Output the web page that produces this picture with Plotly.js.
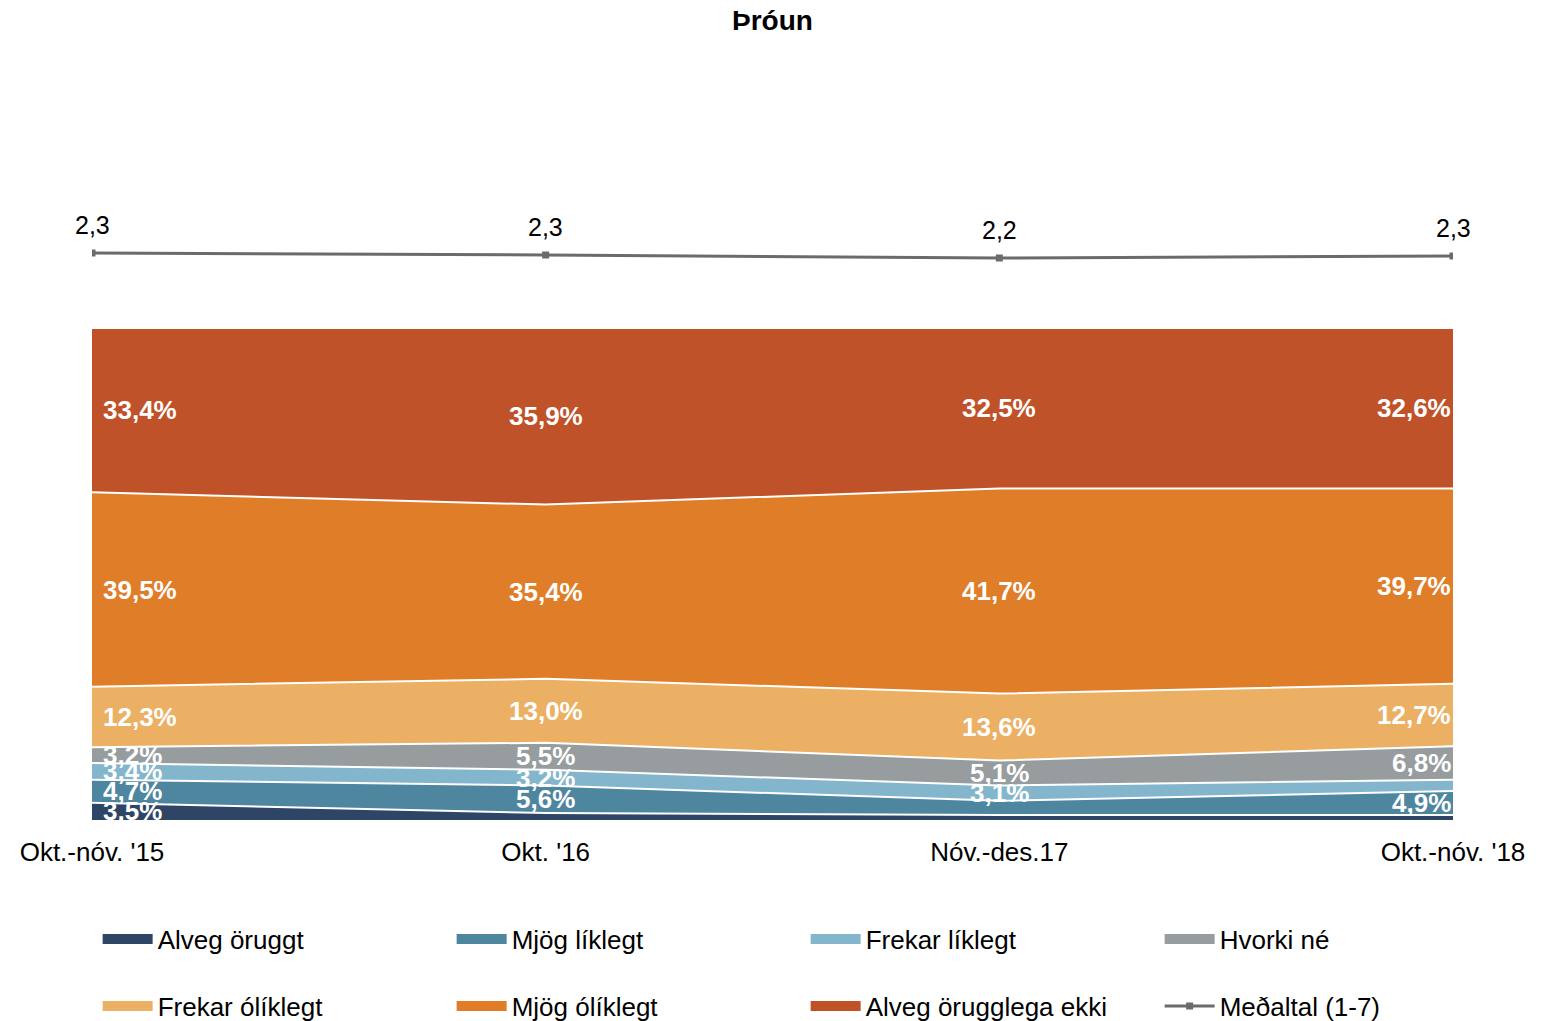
<!DOCTYPE html>
<html>
<head>
<meta charset="utf-8">
<script src="https://cdn.plot.ly/plotly-3.0.1.min.js"></script>
<style>html,body{margin:0;padding:0;background:#fff;}#chart{width:1562px;height:1021px;}</style>
</head>
<body>
<div id="chart"></div>
<script>
const categories = ["Okt.-nóv. '15", "Okt. '16", "Nóv.-des.17", "Okt.-nóv. '18"];
const seriesNames = ["Alveg öruggt", "Mjög líklegt", "Frekar líklegt", "Hvorki né", "Frekar ólíklegt", "Mjög ólíklegt", "Alveg örugglega ekki"];
const alvegOruggt    = [3.5, 1.4, 1.0, 1.0];
const mjogLiklegt    = [4.7, 5.6, 2.9, 4.9];
const frekarLiklegt  = [3.4, 3.2, 3.1, 2.3];
const hvorkiNe       = [3.2, 5.5, 5.1, 6.8];
const frekarOliklegt = [12.3, 13.0, 13.6, 12.7];
const mjogOliklegt   = [39.5, 35.4, 41.7, 39.7];
const alvegEkki      = [33.4, 35.9, 32.5, 32.6];
const medaltalName = "Meðaltal (1-7)";
const medaltal = [2.33, 2.29, 2.23, 2.27];
// which data labels are displayed (1 = shown)
const labelShown = [
  [1, 0, 0, 0],
  [1, 1, 0, 1],
  [1, 1, 1, 0],
  [1, 1, 1, 1],
  [1, 1, 1, 1],
  [1, 1, 1, 1],
  [1, 1, 1, 1]
];

const series = [alvegOruggt, mjogLiklegt, frekarLiklegt, hvorkiNe, frekarOliklegt, mjogOliklegt, alvegEkki];
const colors = ["#2f4566", "#4e86a0", "#83b5cd", "#979d9e", "#ecb065", "#e07d29", "#c0522a"];
const FONT = "'Liberation Sans', Arial, sans-serif";
const fmt = v => v.toFixed(1).replace('.', ',');

const traces = [];
series.forEach((vals, i) => {
  traces.push({
    type: 'scatter', mode: 'lines', x: categories, y: vals,
    stackgroup: 'one', name: seriesNames[i], showlegend: false,
    line: {color: '#ffffff', width: 2}, fillcolor: colors[i], hoverinfo: 'skip'
  });
});
// legend entries
series.forEach((vals, i) => {
  traces.push({
    type: 'scatter', mode: 'lines', x: [categories[0]], y: [null],
    name: seriesNames[i], line: {color: colors[i], width: 11},
    legend: i < 4 ? 'legend' : 'legend2', hoverinfo: 'skip'
  });
});
traces.push({
  type: 'scatter', mode: 'lines+markers', x: categories, y: medaltal, yaxis: 'y2',
  name: medaltalName, legend: 'legend2',
  line: {color: '#6b6b6b', width: 3}, marker: {symbol: 'square', size: 7, color: '#6b6b6b'}
});

const annotations = [];
const cum = categories.map(() => 0);
series.forEach((vals, i) => {
  vals.forEach((v, j) => {
    const mid = cum[j] + v / 2;
    cum[j] += v;
    if (!labelShown[i][j]) return;
    let xanchor = 'center', xshift = 0;
    if (j === 0) { xanchor = 'left'; xshift = 9; }
    if (j === categories.length - 1) { xanchor = 'right'; xshift = 0; }
    annotations.push({
      x: categories[j], y: mid, xref: 'x', yref: 'y', text: fmt(v) + '%',
      showarrow: false, xanchor: xanchor, yanchor: 'middle', xshift: xshift,
      font: {family: FONT, size: 26, color: '#ffffff', weight: 'bold'}
    });
  });
});
medaltal.forEach((v, j) => {
  annotations.push({
    x: categories[j], y: v, xref: 'x', yref: 'y2', text: fmt(v),
    showarrow: false, xanchor: 'center', yanchor: 'middle', yshift: 28,
    font: {family: FONT, size: 25, color: '#000000'}
  });
});

const legendCommon = {
  orientation: 'h', xref: 'paper', yref: 'paper', x: -0.001, xanchor: 'left', yanchor: 'middle',
  entrywidth: 282, entrywidthmode: 'pixels', itemwidth: 50, traceorder: 'normal', indentation: 7,
  font: {family: FONT, size: 26, color: '#000000'}, bgcolor: 'rgba(0,0,0,0)'
};

const layout = {
  width: 1562, height: 1021,
  margin: {l: 92, r: 109, t: 140, b: 201, autoexpand: false},
  paper_bgcolor: '#ffffff', plot_bgcolor: '#ffffff',
  font: {family: FONT, size: 26, color: '#000000'},
  title: {text: '<b>Þróun</b>', x: 0.5, xref: 'paper', xanchor: 'center', y: 0.98, yref: 'container', yanchor: 'middle',
          font: {family: FONT, size: 28, color: '#000000'}},
  xaxis: {type: 'category', range: [0, 3], showgrid: false, zeroline: false, showline: false,
          ticks: '', ticklabelstandoff: 14, automargin: false,
          tickfont: {family: FONT, size: 26, color: '#000000'}, fixedrange: true},
  yaxis: {range: [0, 138.21], visible: false, fixedrange: true},
  yaxis2: {range: [-9.01, 4.59], overlaying: 'y', side: 'right', visible: false, fixedrange: true},
  showlegend: true,
  legend: Object.assign({}, legendCommon, {y: (820 - 939) / 680}),
  legend2: Object.assign({}, legendCommon, {y: (820 - 1006) / 680}),
  annotations: annotations,
  hovermode: false
};

Plotly.newPlot('chart', traces, layout, {displayModeBar: false, staticPlot: true});
</script>
</body>
</html>
